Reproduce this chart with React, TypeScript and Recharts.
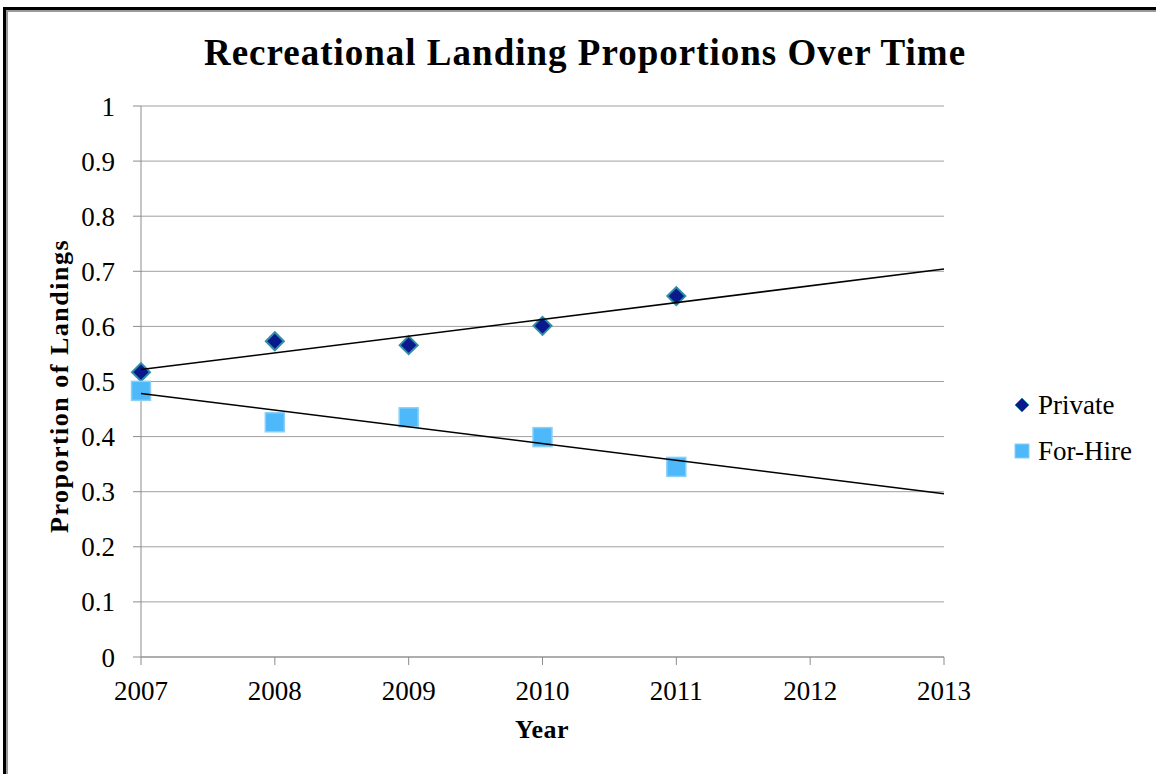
import { CartesianGrid, Legend, Scatter, ScatterChart, XAxis, YAxis } from "recharts"

const years = [2007, 2008, 2009, 2010, 2011]
const privateShare = [0.517, 0.573, 0.566, 0.601, 0.655]
const forHireShare = [0.483, 0.426, 0.435, 0.399, 0.345]
const yearTicks = [2007, 2008, 2009, 2010, 2011, 2012, 2013]
const shareTicks = [0, 0.1, 0.2, 0.3, 0.4, 0.5, 0.6, 0.7, 0.8, 0.9, 1]

const font = "'Liberation Serif', 'Times New Roman', serif"
const navy = "#0a1a8c"
const teal = "#2e8fa8"
const sky = "#4db8fa"
const skyEdge = "#8ccff5"

function toPoints(xs: number[], ys: number[]) {
    return xs.map((x, i) => ({ x, y: ys[i] }))
}

// least squares trendline, drawn across the whole axis like excel does
function trend(xs: number[], ys: number[]) {
    const n = xs.length
    const mx = xs.reduce((a, b) => a + b, 0) / n
    const my = ys.reduce((a, b) => a + b, 0) / n
    let sxy = 0
    let sxx = 0
    xs.forEach((x, i) => {
        sxy += (x - mx) * (ys[i] - my)
        sxx += (x - mx) * (x - mx)
    })
    const slope = sxy / sxx
    const first = yearTicks[0]
    const last = yearTicks[yearTicks.length - 1]
    return [
        { x: first, y: my + slope * (first - mx) },
        { x: last, y: my + slope * (last - mx) },
    ]
}

function Diamond(props: any) {
    const { cx, cy } = props
    const r = 9
    return (
        <path
            d={`M${cx},${cy - r}L${cx + r},${cy}L${cx},${cy + r}L${cx - r},${cy}Z`}
            fill={navy}
            stroke={teal}
            strokeWidth={2}
        />
    )
}

function Square(props: any) {
    const { cx, cy } = props
    const s = 19
    return <rect x={cx - s / 2} y={cy - s / 2} width={s} height={s} fill={sky} stroke={skyEdge} strokeWidth={1.5} />
}

function renderLegend() {
    const row = { display: "flex", alignItems: "center", height: 46, fontFamily: font, fontSize: 27, color: "#000" }
    return (
        <div>
            <div style={row}>
                <svg width={18} height={18} style={{ marginRight: 7 }}>
                    <path d="M9,2L16,9L9,16L2,9Z" fill={navy} stroke={teal} strokeWidth={1} />
                </svg>
                <span>Private</span>
            </div>
            <div style={row}>
                <svg width={18} height={18} style={{ marginRight: 7 }}>
                    <rect x={2} y={2} width={14} height={14} fill={sky} stroke={skyEdge} strokeWidth={1} />
                </svg>
                <span>For-Hire</span>
            </div>
        </div>
    )
}

export default function App() {
    const tickStyle = { fontFamily: font, fontSize: 27, fill: "#000" }
    return (
        <div style={{ position: "absolute", left: 0, top: 0, width: 1156, height: 774, background: "#fff", overflow: "hidden" }}>
            <div style={{ position: "absolute", left: 3, top: 7, width: 1200, height: 800, borderLeft: "3px solid #000", borderTop: "3px solid #000" }} />
            <div style={{ position: "absolute", left: 6, top: 10, width: 1200, height: 800, borderLeft: "2px solid #9a9a9a", borderTop: "2px solid #9a9a9a" }} />
            <div style={{ position: "absolute", left: 0, top: 0 }}>
                <ScatterChart width={1156} height={774} margin={{ top: 106, right: 212, bottom: 77, left: 81 }}>
                    <CartesianGrid vertical={false} stroke="#a0a0a0" strokeWidth={1} />
                    <XAxis
                        type="number"
                        dataKey="x"
                        domain={[2007, 2013]}
                        ticks={yearTicks}
                        interval={0}
                        height={40}
                        stroke="#8c8c8c"
                        tickSize={8}
                        tickMargin={16}
                        tick={tickStyle}
                        allowDecimals={false}
                    />
                    <YAxis
                        type="number"
                        dataKey="y"
                        domain={[0, 1]}
                        ticks={shareTicks}
                        interval={0}
                        width={60}
                        stroke="#8c8c8c"
                        tickSize={8}
                        tickMargin={18}
                        tick={tickStyle}
                    />
                    <Legend
                        layout="vertical"
                        align="center"
                        verticalAlign="middle"
                        wrapperStyle={{ left: 1013, top: 382, width: 140 }}
                        content={renderLegend}
                    />
                    <Scatter name="Private" data={toPoints(years, privateShare)} shape={Diamond} isAnimationActive={false} />
                    <Scatter name="For-Hire" data={toPoints(years, forHireShare)} shape={Square} isAnimationActive={false} />
                    <Scatter
                        name="Private trend"
                        data={trend(years, privateShare)}
                        line={{ stroke: "#000", strokeWidth: 1.5 }}
                        shape={() => <g />}
                        legendType="none"
                        isAnimationActive={false}
                    />
                    <Scatter
                        name="For-Hire trend"
                        data={trend(years, forHireShare)}
                        line={{ stroke: "#000", strokeWidth: 1.5 }}
                        shape={() => <g />}
                        legendType="none"
                        isAnimationActive={false}
                    />
                    <text x={585} y={65} textAnchor="middle" fontFamily={font} fontWeight="bold" fontSize={37} letterSpacing={1} fill="#000">
                        Recreational Landing Proportions Over Time
                    </text>
                    <text x={542} y={738} textAnchor="middle" fontFamily={font} fontWeight="bold" fontSize={26} letterSpacing={0.5} fill="#000">
                        Year
                    </text>
                    <text
                        x={0}
                        y={0}
                        transform="translate(68,386) rotate(-90)"
                        textAnchor="middle"
                        fontFamily={font}
                        fontWeight="bold"
                        fontSize={26}
                        letterSpacing={1.5}
                        fill="#000"
                    >
                        Proportion of Landings
                    </text>
                </ScatterChart>
            </div>
        </div>
    )
}
